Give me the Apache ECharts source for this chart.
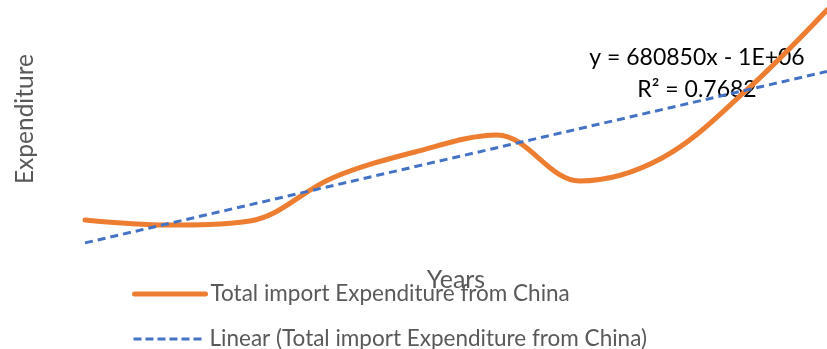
<!DOCTYPE html>
<html>
<head>
<meta charset="utf-8">
<script src="https://cdn.jsdelivr.net/npm/echarts@6/dist/echarts.min.js"></script>
<style>html,body{margin:0;padding:0;background:#fff}#c{width:827px;height:349px}</style>
</head>
<body>
<div id="c"></div>
<script>
const years = [1, 2, 3, 4, 5, 6, 7, 8, 9, 10];
const expenditure = [499000, 321000, 463000, 1996000, 2922000, 3528000, 1889000, 2709000, 5061000, 7983000];
const seriesName = 'Total import Expenditure from China';
const trendName = 'Linear (Total import Expenditure from China)';
const equationText = 'y = 680850x - 1E+06';
const r2Text = 'R² = 0.7682';
const xTitle = 'Years';
const yTitle = 'Expenditure';

// least squares linear trend (as the spreadsheet's trendline)
const n = years.length;
const mx = years.reduce((a, b) => a + b, 0) / n;
const my = expenditure.reduce((a, b) => a + b, 0) / n;
let sxy = 0, sxx = 0;
for (let i = 0; i < n; i++) { sxy += (years[i] - mx) * (expenditure[i] - my); sxx += (years[i] - mx) ** 2; }
const slope = sxy / sxx, intercept = my - slope * mx;
const trend = [[years[0], slope * years[0] + intercept], [years[n - 1], slope * years[n - 1] + intercept]];

const font = 'Lato';
const legendText = { color: '#595959', fontSize: 22.5, fontFamily: font, lineHeight: 26 };
const chart = echarts.init(document.getElementById('c'));
chart.setOption({
  animation: false,
  grid: { left: 85, right: -5, top: 0, bottom: 87 },
  xAxis: {
    type: 'value', min: 1, max: 10,
    name: xTitle, nameLocation: 'middle', nameGap: 5,
    nameTextStyle: { color: '#595959', fontSize: 25, fontFamily: font },
    axisLine: { show: false }, axisTick: { show: false }, axisLabel: { show: false }, splitLine: { show: false }
  },
  yAxis: {
    type: 'value', min: -1000000, max: 8340000,
    axisLine: { show: false }, axisTick: { show: false }, axisLabel: { show: false }, splitLine: { show: false }
  },
  legend: [
    { left: 127, top: 276, itemWidth: 71, itemHeight: 14, textStyle: legendText,
      itemStyle: { opacity: 0 }, lineStyle: { width: 5, cap: 'round' }, data: [seriesName] },
    { left: 127, top: 321, itemWidth: 71, itemHeight: 14, textStyle: legendText,
      itemStyle: { opacity: 0 }, lineStyle: { width: 3, type: [8, 4] }, data: [trendName] }
  ],
  graphic: [
    { type: 'text', x: 25, y: 119, rotation: Math.PI / 2,
      style: { text: yTitle, fill: '#595959', font: '24.5px ' + font, align: 'center', verticalAlign: 'middle' } },
    { type: 'text', x: 697, y: 58,
      style: { text: equationText, fill: '#000', font: '23px ' + font, align: 'center', verticalAlign: 'middle' } },
    { type: 'text', x: 697, y: 90,
      style: { text: r2Text, fill: '#000', font: '23px ' + font, align: 'center', verticalAlign: 'middle' } }
  ],
  series: [
    { name: seriesName, type: 'line', data: years.map((y, i) => [y, expenditure[i]]),
      smooth: 0.35, symbol: 'none', clip: false,
      lineStyle: { color: '#ED7D31', width: 5, cap: 'round' }, itemStyle: { color: '#ED7D31' } },
    { name: trendName, type: 'line', data: trend, symbol: 'none', clip: false,
      lineStyle: { color: '#4472C4', width: 3, type: [8, 5] }, itemStyle: { color: '#4472C4' } }
  ]
});
</script>
</body>
</html>
